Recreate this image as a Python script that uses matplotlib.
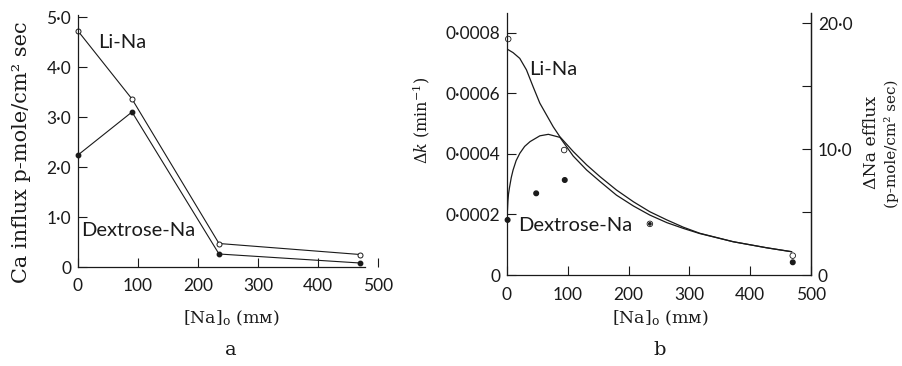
import numpy as np
import matplotlib
matplotlib.use("Agg")
import matplotlib.pyplot as plt

plt.rcParams["mathtext.fontset"] = "dejavuserif"
plt.rcParams["font.family"] = ["Lato", "DejaVu Sans"]

SERIF = ["DejaVu Serif"]
INK = "#1a1a1a"

# ---- panel a: Ca influx vs external Na ----
na_a = [0, 90, 235, 470]
ca_li = [4.72, 3.36, 0.47, 0.25]
ca_dex = [2.24, 3.10, 0.26, 0.08]
a_yticks = [0, 1, 2, 3, 4, 5]
a_ylabels = ["0", "1·0", "2·0", "3·0", "4·0", "5·0"]
a_xticks = [0, 100, 200, 300, 400, 500]

# ---- panel b: delta k (rate constant) vs external Na ----
li_pts_x = [2, 94, 235, 470]
li_pts_y = [0.00078, 0.000413, 0.000169, 0.000064]
dex_pts_x = [1, 48, 95, 235, 470]
dex_pts_y = [0.000182, 0.00027, 0.000314, 0.000169, 0.000042]

li_curve_x = [0, 10, 21, 32, 43, 54, 65, 76, 87, 109, 131, 153, 180, 208,
              235, 263, 290, 317, 372, 427, 468]
li_curve_y = [7.47, 7.35, 7.16, 6.78, 6.22, 5.68, 5.29, 4.90, 4.57, 4.08,
              3.64, 3.25, 2.81, 2.42, 2.09, 1.82, 1.58, 1.38, 1.10, 0.90, 0.77]
dex_curve_x = [0.5, 1.5, 2.5, 4, 7, 10, 15, 21, 29, 38, 54, 68, 87, 109,
               131, 153, 180, 208, 235, 263, 290, 317, 372, 427, 468]
dex_curve_y = [2.05, 2.45, 2.68, 2.88, 3.22, 3.47, 3.78, 4.02, 4.25, 4.41,
               4.60, 4.65, 4.55, 3.93, 3.47, 3.09, 2.64, 2.28, 1.98, 1.73,
               1.54, 1.37, 1.10, 0.90, 0.77]
b_yticks = [0, 0.0002, 0.0004, 0.0006, 0.0008]
b_ylabels = ["0", "0·0002", "0·0004", "0·0006", "0·0008"]
efflux_ticks = [0, 5, 10, 15, 20]
efflux_labels = ["0", "", "10·0", "", "20·0"]
b_xticks = [0, 100, 200, 300, 400, 500]

W, H = 903, 366
fig = plt.figure(figsize=(W / 100, H / 100), dpi=100)


def px(x, y):
    """pixel position (from top-left) -> figure fraction"""
    return x / W, 1 - y / H


def style_axis(ax):
    for s in ax.spines.values():
        s.set_linewidth(0.9)
        s.set_color(INK)
    ax.tick_params(direction="in", length=6.5, width=0.8, colors=INK,
                   labelsize=12.5)


# panel a
ax_a = fig.add_axes([78 / W, 1 - 267 / H, 300 / W, 252 / H])
ax_a.plot(na_a, ca_li, "-o", color=INK, lw=0.8, ms=3.6, mfc="white",
          mew=0.7, clip_on=False)
ax_a.plot(na_a, ca_dex, "-o", color=INK, lw=0.8, ms=3.2, mfc=INK,
          clip_on=False)
ax_a.set_xlim(0, 500)
ax_a.set_ylim(0, 5.04)
ax_a.spines[["top", "right"]].set_visible(False)
ax_a.spines["bottom"].set_bounds(0, 478)
style_axis(ax_a)
ax_a.set_xticks(a_xticks)
ax_a.set_yticks(a_yticks)
ax_a.set_yticklabels(a_ylabels)
ax_a.tick_params(axis="x", pad=8)
ax_a.tick_params(axis="y", pad=5)
ax_a.text(73, 4.48, "Li-Na", fontsize=14.5, ha="center", va="center",
          color=INK)
ax_a.text(100, 0.72, "Dextrose-Na", fontsize=14.5, ha="center",
          va="center", color=INK)
fig.text(*px(22, 152), "Ca influx p-mole/cm² sec", family=SERIF,
         fontsize=15, rotation=90, ha="center", va="center", color=INK)

# panel b
ax_b = fig.add_axes([507 / W, 1 - 275 / H, 304 / W, 262 / H])
ax_b.plot(li_curve_x, np.array(li_curve_y) * 1e-4, color=INK, lw=0.9)
ax_b.plot(dex_curve_x, np.array(dex_curve_y) * 1e-4, color=INK, lw=0.9)

# a filled point sitting on an open one is drawn as a dot inside the ring
shared = np.array([any(abs(x - lx) < 3 and abs(y - ly) < 1e-5
                       for lx, ly in zip(li_pts_x, li_pts_y))
                   for x, y in zip(dex_pts_x, dex_pts_y)])
dex_size = np.where(shared, 3, 11)
ax_b.scatter(dex_pts_x, dex_pts_y, s=dex_size, color=INK, zorder=3,
             clip_on=False)
ax_b.scatter(li_pts_x, li_pts_y, s=16, facecolors="none", edgecolors=INK,
             linewidths=0.6, zorder=4, clip_on=False)
ax_b.set_xlim(0, 500)
ax_b.set_ylim(0, 0.000866)
ax_b.spines["top"].set_visible(False)
style_axis(ax_b)
ax_b.set_xticks(b_xticks)
ax_b.set_yticks(b_yticks)
ax_b.set_yticklabels(b_ylabels)
ax_b.tick_params(axis="x", pad=9)
ax_b.tick_params(axis="y", pad=5)
ax_b.text(76, 0.000678, "Li-Na", fontsize=14.5, ha="center", va="center",
          color=INK)
ax_b.text(112, 0.000165, "Dextrose-Na", fontsize=14.5, ha="center",
          va="center", color=INK)
fig.text(*px(421, 120), r"$\Delta k$ (min$^{-1}$)", family=SERIF,
         fontsize=11.5, rotation=90, ha="center", va="center", color=INK)

ax_r = ax_b.twinx()
ax_r.set_ylim(0, 20.8)
ax_r.spines[["top", "left", "bottom"]].set_visible(False)
style_axis(ax_r)
ax_r.set_yticks(efflux_ticks)
ax_r.set_yticklabels(efflux_labels)
ax_r.tick_params(axis="y", pad=5)
fig.text(*px(872, 142), "ΔNa efflux", family=SERIF, fontsize=12.5,
         rotation=90, ha="center", va="center", color=INK)
fig.text(*px(892, 144), "(p-mole/cm² sec)", family=SERIF, fontsize=11,
         rotation=90, ha="center", va="center", color=INK)

# shared x labels and panel letters
for cx, letter in [(231, "a"), (660, "b")]:
    fig.text(*px(cx, 318), "[Na]$_{\\mathrm{o}}$ (mᴍ)", family=SERIF,
             fontsize=12.5, ha="center", va="center", color=INK)
    fig.text(*px(cx, 350), letter, family=SERIF, fontsize=14,
             ha="center", va="center", color=INK)

fig.savefig("out.png", dpi=100)
